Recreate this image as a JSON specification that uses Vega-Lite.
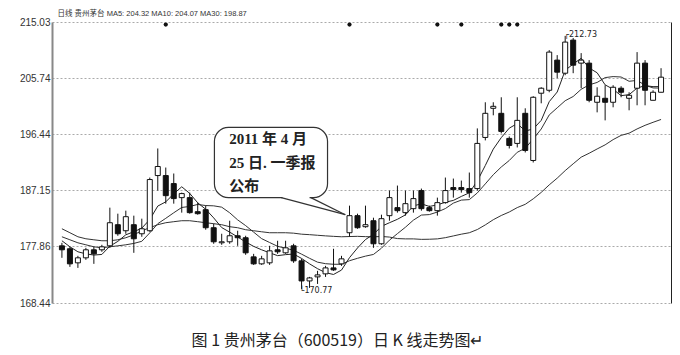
{
  "$schema": "https://vega.github.io/schema/vega-lite/v6.json",
  "width": 619,
  "height": 281,
  "autosize": {"type": "none"},
  "padding": {"left": 52, "top": 22, "right": 9, "bottom": 52},
  "background": "white",
  "config": {"view": {"stroke": null}, "font": "Liberation Sans"},
  "title": {"text": "图 1  贵州茅台（600519）日 K 线走势图↵", "orient": "bottom", "font": "Noto Sans CJK SC", "fontSize": 16, "fontWeight": "normal", "color": "#222", "offset": 25, "anchor": "middle", "dx": -24},
  "datasets": {
    "k": [
      {"d":1,"o":177.92,"h":178.42,"l":175.93,"c":177.26,"ma5":178.76,"ma10":179.42,"ma30":180.75},
      {"d":2,"o":177.43,"h":177.76,"l":174.43,"c":174.93,"ma5":177.76,"ma10":178.92,"ma30":180.09},
      {"d":3,"o":175.10,"h":176.26,"l":174.26,"c":175.93,"ma5":176.93,"ma10":178.42,"ma30":179.42},
      {"d":4,"o":175.93,"h":177.59,"l":175.60,"c":177.26,"ma5":176.59,"ma10":178.09,"ma30":179.09},
      {"d":5,"o":177.26,"h":177.76,"l":174.93,"c":176.59,"ma5":176.39,"ma10":177.76,"ma30":178.92},
      {"d":6,"o":177.26,"h":178.09,"l":176.93,"c":177.76,"ma5":176.49,"ma10":177.59,"ma30":178.76},
      {"d":7,"o":177.92,"h":184.25,"l":177.59,"c":181.75,"ma5":177.86,"ma10":177.76,"ma30":178.76},
      {"d":8,"o":181.42,"h":183.25,"l":179.59,"c":179.92,"ma5":178.66,"ma10":177.92,"ma30":178.92},
      {"d":9,"o":180.42,"h":183.75,"l":179.92,"c":182.75,"ma5":179.75,"ma10":178.09,"ma30":179.26},
      {"d":10,"o":181.42,"h":182.92,"l":176.76,"c":179.09,"ma5":180.25,"ma10":178.32,"ma30":179.75},
      {"d":11,"o":179.92,"h":182.42,"l":179.42,"c":180.75,"ma5":180.85,"ma10":178.67,"ma30":180.42},
      {"d":12,"o":180.42,"h":189.24,"l":180.25,"c":188.91,"ma5":182.28,"ma10":180.07,"ma30":180.92},
      {"d":13,"o":189.57,"h":194.06,"l":187.08,"c":191.07,"ma5":184.51,"ma10":181.59,"ma30":181.42},
      {"d":14,"o":189.57,"h":190.90,"l":184.91,"c":186.24,"ma5":185.21,"ma10":182.48,"ma30":181.75},
      {"d":15,"o":188.24,"h":189.91,"l":184.91,"c":185.75,"ma5":186.54,"ma10":183.40,"ma30":181.92},
      {"d":16,"o":185.91,"h":186.74,"l":183.42,"c":186.58,"ma5":187.71,"ma10":184.28,"ma30":182.08},
      {"d":17,"o":185.91,"h":186.74,"l":183.25,"c":183.42,"ma5":186.61,"ma10":184.45,"ma30":182.08},
      {"d":18,"o":183.58,"h":185.08,"l":183.08,"c":183.25,"ma5":185.05,"ma10":184.78,"ma30":181.92},
      {"d":19,"o":183.91,"h":184.58,"l":180.59,"c":180.92,"ma5":183.98,"ma10":184.60,"ma30":181.75},
      {"d":20,"o":180.92,"h":181.59,"l":178.26,"c":178.59,"ma5":182.55,"ma10":184.55,"ma30":181.59},
      {"d":21,"o":178.42,"h":179.92,"l":178.09,"c":178.59,"ma5":180.95,"ma10":184.33,"ma30":181.42},
      {"d":22,"o":178.59,"h":182.08,"l":178.26,"c":179.59,"ma5":180.19,"ma10":183.40,"ma30":181.09},
      {"d":23,"o":179.59,"h":180.42,"l":177.92,"c":179.26,"ma5":179.39,"ma10":182.22,"ma30":180.92},
      {"d":24,"o":179.26,"h":179.59,"l":176.43,"c":176.76,"ma5":178.56,"ma10":181.27,"ma30":180.59},
      {"d":25,"o":176.09,"h":176.59,"l":174.76,"c":174.93,"ma5":177.83,"ma10":180.19,"ma30":180.42},
      {"d":26,"o":174.93,"h":176.26,"l":174.76,"c":175.76,"ma5":177.26,"ma10":179.11,"ma30":180.25},
      {"d":27,"o":175.10,"h":177.92,"l":174.76,"c":177.09,"ma5":176.76,"ma10":178.47,"ma30":180.09},
      {"d":28,"o":177.26,"h":178.76,"l":176.59,"c":176.93,"ma5":176.29,"ma10":177.84,"ma30":180.09},
      {"d":29,"o":176.76,"h":178.76,"l":176.59,"c":177.59,"ma5":176.46,"ma10":177.51,"ma30":180.09},
      {"d":30,"o":177.92,"h":178.26,"l":175.10,"c":175.43,"ma5":176.56,"ma10":177.19,"ma30":180.02},
      {"d":31,"o":175.43,"h":175.76,"l":170.77,"c":172.10,"ma5":175.83,"ma10":176.54,"ma30":179.85},
      {"d":32,"o":172.10,"h":172.77,"l":170.94,"c":172.60,"ma5":174.93,"ma10":175.85,"ma30":179.77},
      {"d":33,"o":172.77,"h":173.77,"l":171.60,"c":173.10,"ma5":174.13,"ma10":175.21,"ma30":179.67},
      {"d":34,"o":173.27,"h":174.60,"l":172.77,"c":174.26,"ma5":173.47,"ma10":174.96,"ma30":179.57},
      {"d":35,"o":174.26,"h":177.43,"l":173.77,"c":173.93,"ma5":173.17,"ma10":174.86,"ma30":179.49},
      {"d":36,"o":174.93,"h":176.26,"l":174.60,"c":175.76,"ma5":173.90,"ma10":174.86,"ma30":179.42},
      {"d":37,"o":180.09,"h":184.58,"l":179.42,"c":182.92,"ma5":175.96,"ma10":175.45,"ma30":179.46},
      {"d":38,"o":182.92,"h":183.25,"l":180.75,"c":180.92,"ma5":177.56,"ma10":175.85,"ma30":179.49},
      {"d":39,"o":181.09,"h":184.58,"l":180.92,"c":181.42,"ma5":178.96,"ma10":176.21,"ma30":179.44},
      {"d":40,"o":182.08,"h":182.58,"l":177.59,"c":178.26,"ma5":179.82,"ma10":176.49,"ma30":179.41},
      {"d":41,"o":178.26,"h":183.08,"l":178.09,"c":182.42,"ma5":181.15,"ma10":177.53,"ma30":179.47},
      {"d":42,"o":182.92,"h":187.08,"l":182.08,"c":185.91,"ma5":181.75,"ma10":178.86,"ma30":179.37},
      {"d":43,"o":184.25,"h":187.91,"l":183.42,"c":183.75,"ma5":182.32,"ma10":179.94,"ma30":179.12},
      {"d":44,"o":183.42,"h":187.08,"l":182.92,"c":184.91,"ma5":183.05,"ma10":181.00,"ma30":179.07},
      {"d":45,"o":184.08,"h":187.08,"l":183.42,"c":185.75,"ma5":184.55,"ma10":182.18,"ma30":179.07},
      {"d":46,"o":187.08,"h":187.41,"l":183.75,"c":184.08,"ma5":184.88,"ma10":183.02,"ma30":178.99},
      {"d":47,"o":184.25,"h":184.58,"l":183.58,"c":183.75,"ma5":184.45,"ma10":183.10,"ma30":179.01},
      {"d":48,"o":183.75,"h":185.91,"l":182.92,"c":185.08,"ma5":184.71,"ma10":183.52,"ma30":179.07},
      {"d":49,"o":185.08,"h":189.24,"l":184.91,"c":187.08,"ma5":185.15,"ma10":184.10,"ma30":179.27},
      {"d":50,"o":187.58,"h":189.07,"l":185.91,"c":187.24,"ma5":185.45,"ma10":185.00,"ma30":179.56},
      {"d":51,"o":187.58,"h":188.74,"l":186.74,"c":187.24,"ma5":186.11,"ma10":185.50,"ma30":179.85},
      {"d":52,"o":187.41,"h":190.07,"l":185.91,"c":186.74,"ma5":186.71,"ma10":185.58,"ma30":180.09},
      {"d":53,"o":187.41,"h":197.39,"l":187.08,"c":194.90,"ma5":188.67,"ma10":186.69,"ma30":180.62},
      {"d":54,"o":195.89,"h":201.72,"l":195.40,"c":199.89,"ma5":191.24,"ma10":188.19,"ma30":181.39},
      {"d":55,"o":200.72,"h":201.72,"l":199.56,"c":201.05,"ma5":193.96,"ma10":189.71,"ma30":182.25},
      {"d":56,"o":199.89,"h":202.55,"l":196.56,"c":196.89,"ma5":195.86,"ma10":190.99,"ma30":182.95},
      {"d":57,"o":195.73,"h":196.06,"l":194.06,"c":194.56,"ma5":197.43,"ma10":192.07,"ma30":183.53},
      {"d":58,"o":194.90,"h":202.55,"l":194.23,"c":198.72,"ma5":198.19,"ma10":193.43,"ma30":184.26},
      {"d":59,"o":199.89,"h":200.72,"l":193.40,"c":193.73,"ma5":196.96,"ma10":194.10,"ma30":184.80},
      {"d":60,"o":192.07,"h":202.72,"l":191.74,"c":202.55,"ma5":197.29,"ma10":195.63,"ma30":185.71},
      {"d":61,"o":203.22,"h":204.21,"l":201.55,"c":204.05,"ma5":198.72,"ma10":197.29,"ma30":186.78},
      {"d":62,"o":203.71,"h":210.37,"l":203.38,"c":210.04,"ma5":201.82,"ma10":199.62,"ma30":188.02},
      {"d":63,"o":208.71,"h":209.54,"l":205.71,"c":206.71,"ma5":203.42,"ma10":200.80,"ma30":189.14},
      {"d":64,"o":206.54,"h":212.73,"l":206.21,"c":211.70,"ma5":207.01,"ma10":201.98,"ma30":190.39},
      {"d":65,"o":212.03,"h":212.37,"l":206.54,"c":207.87,"ma5":208.07,"ma10":202.68,"ma30":191.52},
      {"d":66,"o":208.21,"h":209.87,"l":204.05,"c":208.71,"ma5":209.01,"ma10":203.87,"ma30":192.62},
      {"d":67,"o":208.21,"h":208.71,"l":201.72,"c":202.05,"ma5":207.41,"ma10":204.61,"ma30":193.27},
      {"d":68,"o":201.72,"h":204.21,"l":200.05,"c":202.72,"ma5":206.61,"ma10":205.01,"ma30":193.98},
      {"d":69,"o":202.38,"h":204.55,"l":198.72,"c":201.72,"ma5":204.61,"ma10":205.81,"ma30":194.66},
      {"d":70,"o":201.72,"h":204.55,"l":200.89,"c":204.21,"ma5":203.88,"ma10":205.98,"ma30":195.53},
      {"d":71,"o":204.05,"h":204.38,"l":202.55,"c":203.38,"ma5":202.82,"ma10":205.91,"ma30":196.23},
      {"d":72,"o":202.38,"h":203.38,"l":200.39,"c":202.88,"ma5":202.98,"ma10":205.20,"ma30":196.60},
      {"d":73,"o":204.05,"h":210.04,"l":201.22,"c":208.21,"ma5":204.08,"ma10":205.35,"ma30":197.30},
      {"d":74,"o":208.21,"h":208.71,"l":201.22,"c":203.71,"ma5":204.48,"ma10":204.55,"ma30":197.90},
      {"d":75,"o":202.05,"h":203.71,"l":202.05,"c":203.38,"ma5":204.31,"ma10":204.10,"ma30":198.40},
      {"d":76,"o":203.38,"h":207.37,"l":203.38,"c":205.88,"ma5":204.32,"ma10":204.07,"ma30":198.87}
    ],
    "ev": [{"d":14},{"d":37},{"d":48},{"d":51},{"d":56},{"d":57},{"d":58}]
  },
  "resolve": {"axis": {"y": "independent"}},
  "layer": [
    {
      "data": {"name": "k"},
      "mark": {"type": "line", "color": "#333", "strokeWidth": 1},
      "encoding": {
        "x": {"field": "d", "type": "quantitative", "scale": {"domain": [0.384, 76.62], "nice": false, "zero": false},
              "axis": {"title": null, "labels": false, "ticks": false, "grid": false, "domainColor": "#888", "domainWidth": 2}},
        "y": {"field": "ma30", "type": "quantitative", "scale": {"domain": [168.44, 215.03], "nice": false, "zero": false},
              "axis": {"title": null, "values": [168.44, 177.86, 187.15, 196.44, 205.74, 215.03], "format": ".2f", "ticks": false,
                       "labelPadding": 2, "labelFontSize": 10, "labelColor": "#333", "labelFlush": false, "labelOverlap": false,
                       "domainColor": "#888", "domainWidth": 2, "grid": true, "gridColor": "#aaa", "gridDash": [2, 2], "gridWidth": 1}}
      }
    },
    {
      "data": {"name": "k"},
      "mark": {"type": "line", "color": "#333", "strokeWidth": 1},
      "encoding": {
        "x": {"field": "d", "type": "quantitative", "scale": {"domain": [0.384, 76.62], "nice": false, "zero": false}, "axis": null},
        "y": {"field": "ma10", "type": "quantitative", "scale": {"domain": [168.44, 215.03], "nice": false, "zero": false}, "axis": null}
      }
    },
    {
      "data": {"name": "k"},
      "mark": {"type": "line", "color": "#222", "strokeWidth": 1},
      "encoding": {
        "x": {"field": "d", "type": "quantitative", "scale": {"domain": [0.384, 76.62], "nice": false, "zero": false}, "axis": null},
        "y": {"field": "ma5", "type": "quantitative", "scale": {"domain": [168.44, 215.03], "nice": false, "zero": false}, "axis": null}
      }
    },
    {
      "data": {"name": "k"},
      "mark": {"type": "rule", "color": "#111", "strokeWidth": 1},
      "encoding": {
        "x": {"field": "d", "type": "quantitative", "scale": {"domain": [0.384, 76.62], "nice": false, "zero": false}, "axis": null},
        "y": {"field": "l", "type": "quantitative", "scale": {"domain": [168.44, 215.03], "nice": false, "zero": false},
              "axis": {"orient": "right", "title": null, "labels": false, "ticks": false, "grid": false, "domainColor": "#222", "domainWidth": 1}},
        "y2": {"field": "h"}
      }
    },
    {
      "data": {"name": "k"},
      "mark": {"type": "bar", "width": 5, "stroke": "#111", "strokeWidth": 1},
      "encoding": {
        "x": {"field": "d", "type": "quantitative", "scale": {"domain": [0.384, 76.62], "nice": false, "zero": false}, "axis": null},
        "y": {"field": "o", "type": "quantitative", "scale": {"domain": [168.44, 215.03], "nice": false, "zero": false}, "axis": null},
        "y2": {"field": "c"},
        "fill": {"condition": {"test": "datum.c >= datum.o", "value": "white"}, "value": "#111"}
      }
    },
    {
      "data": {"name": "ev"},
      "mark": {"type": "point", "filled": true, "color": "#111", "size": 18, "opacity": 1},
      "encoding": {
        "x": {"field": "d", "type": "quantitative", "scale": {"domain": [0.384, 76.62], "nice": false, "zero": false}, "axis": null},
        "y": {"datum": 214.6, "type": "quantitative", "scale": {"domain": [168.44, 215.03], "nice": false, "zero": false}, "axis": null}
      }
    },
    {
      "data": {"values": [{}]},
      "mark": {"type": "text", "text": "日线  贵州茅台  MA5: 204.32  MA10: 204.07  MA30: 198.87", "align": "left", "baseline": "middle", "dy": -8, "fontSize": 7.5, "color": "#333", "font": "Liberation Sans, Noto Sans CJK SC"},
      "encoding": {
        "x": {"datum": 0.45, "type": "quantitative", "scale": {"domain": [0.384, 76.62], "nice": false, "zero": false}, "axis": null},
        "y": {"datum": 215.03, "type": "quantitative", "scale": {"domain": [168.44, 215.03], "nice": false, "zero": false}, "axis": null}
      }
    },
    {
      "data": {"values": [{}]},
      "mark": {"type": "rect", "fill": "white", "stroke": "#333", "strokeWidth": 1.2, "cornerRadius": 14},
      "encoding": {
        "x": {"datum": 20.09, "type": "quantitative", "scale": {"domain": [0.384, 76.62], "nice": false, "zero": false}, "axis": null},
        "x2": {"datum": 34.25},
        "y": {"datum": 197.56, "type": "quantitative", "scale": {"domain": [168.44, 215.03], "nice": false, "zero": false}, "axis": null},
        "y2": {"datum": 185.91}
      }
    },
    {
      "data": {"values": [{}]},
      "mark": {"type": "rule", "color": "white", "strokeWidth": 3},
      "encoding": {
        "x": {"datum": 28.6, "type": "quantitative", "scale": {"domain": [0.384, 76.62], "nice": false, "zero": false}, "axis": null},
        "x2": {"datum": 32.0},
        "y": {"datum": 185.91, "type": "quantitative", "scale": {"domain": [168.44, 215.03], "nice": false, "zero": false}, "axis": null}
      }
    },
    {
      "data": {"values": [{}]},
      "mark": {"type": "rule", "color": "#333", "strokeWidth": 1.2},
      "encoding": {
        "x": {"datum": 28.46, "type": "quantitative", "scale": {"domain": [0.384, 76.62], "nice": false, "zero": false}, "axis": null},
        "x2": {"datum": 36.47},
        "y": {"datum": 185.91, "type": "quantitative", "scale": {"domain": [168.44, 215.03], "nice": false, "zero": false}, "axis": null},
        "y2": {"datum": 183.08}
      }
    },
    {
      "data": {"values": [{}]},
      "mark": {"type": "rule", "color": "#333", "strokeWidth": 1.2},
      "encoding": {
        "x": {"datum": 32.16, "type": "quantitative", "scale": {"domain": [0.384, 76.62], "nice": false, "zero": false}, "axis": null},
        "x2": {"datum": 36.47},
        "y": {"datum": 185.91, "type": "quantitative", "scale": {"domain": [168.44, 215.03], "nice": false, "zero": false}, "axis": null},
        "y2": {"datum": 183.08}
      }
    },
    {
      "data": {"values": [{}]},
      "mark": {"type": "text", "text": ["2011 年 4 月", "25 日. 一季报", "公布"], "align": "left", "baseline": "top", "lineHeight": 23.5, "fontSize": 15, "fontWeight": "bold", "color": "#222", "font": "Liberation Serif, Noto Sans CJK SC"},
      "encoding": {
        "x": {"datum": 21.94, "type": "quantitative", "scale": {"domain": [0.384, 76.62], "nice": false, "zero": false}, "axis": null},
        "y": {"datum": 196.73, "type": "quantitative", "scale": {"domain": [168.44, 215.03], "nice": false, "zero": false}, "axis": null}
      }
    },
    {
      "data": {"values": [{}]},
      "mark": {"type": "text", "text": "┌212.73", "align": "left", "baseline": "middle", "dx": -1, "dy": -1, "fontSize": 8, "color": "#222", "font": "DejaVu Sans"},
      "encoding": {
        "x": {"datum": 64, "type": "quantitative", "scale": {"domain": [0.384, 76.62], "nice": false, "zero": false}, "axis": null},
        "y": {"datum": 212.73, "type": "quantitative", "scale": {"domain": [168.44, 215.03], "nice": false, "zero": false}, "axis": null}
      }
    },
    {
      "data": {"values": [{}]},
      "mark": {"type": "text", "text": "└170.77", "align": "left", "baseline": "middle", "dx": -2, "dy": 2, "fontSize": 8, "color": "#222", "font": "DejaVu Sans"},
      "encoding": {
        "x": {"datum": 31, "type": "quantitative", "scale": {"domain": [0.384, 76.62], "nice": false, "zero": false}, "axis": null},
        "y": {"datum": 170.77, "type": "quantitative", "scale": {"domain": [168.44, 215.03], "nice": false, "zero": false}, "axis": null}
      }
    }
  ]
}
